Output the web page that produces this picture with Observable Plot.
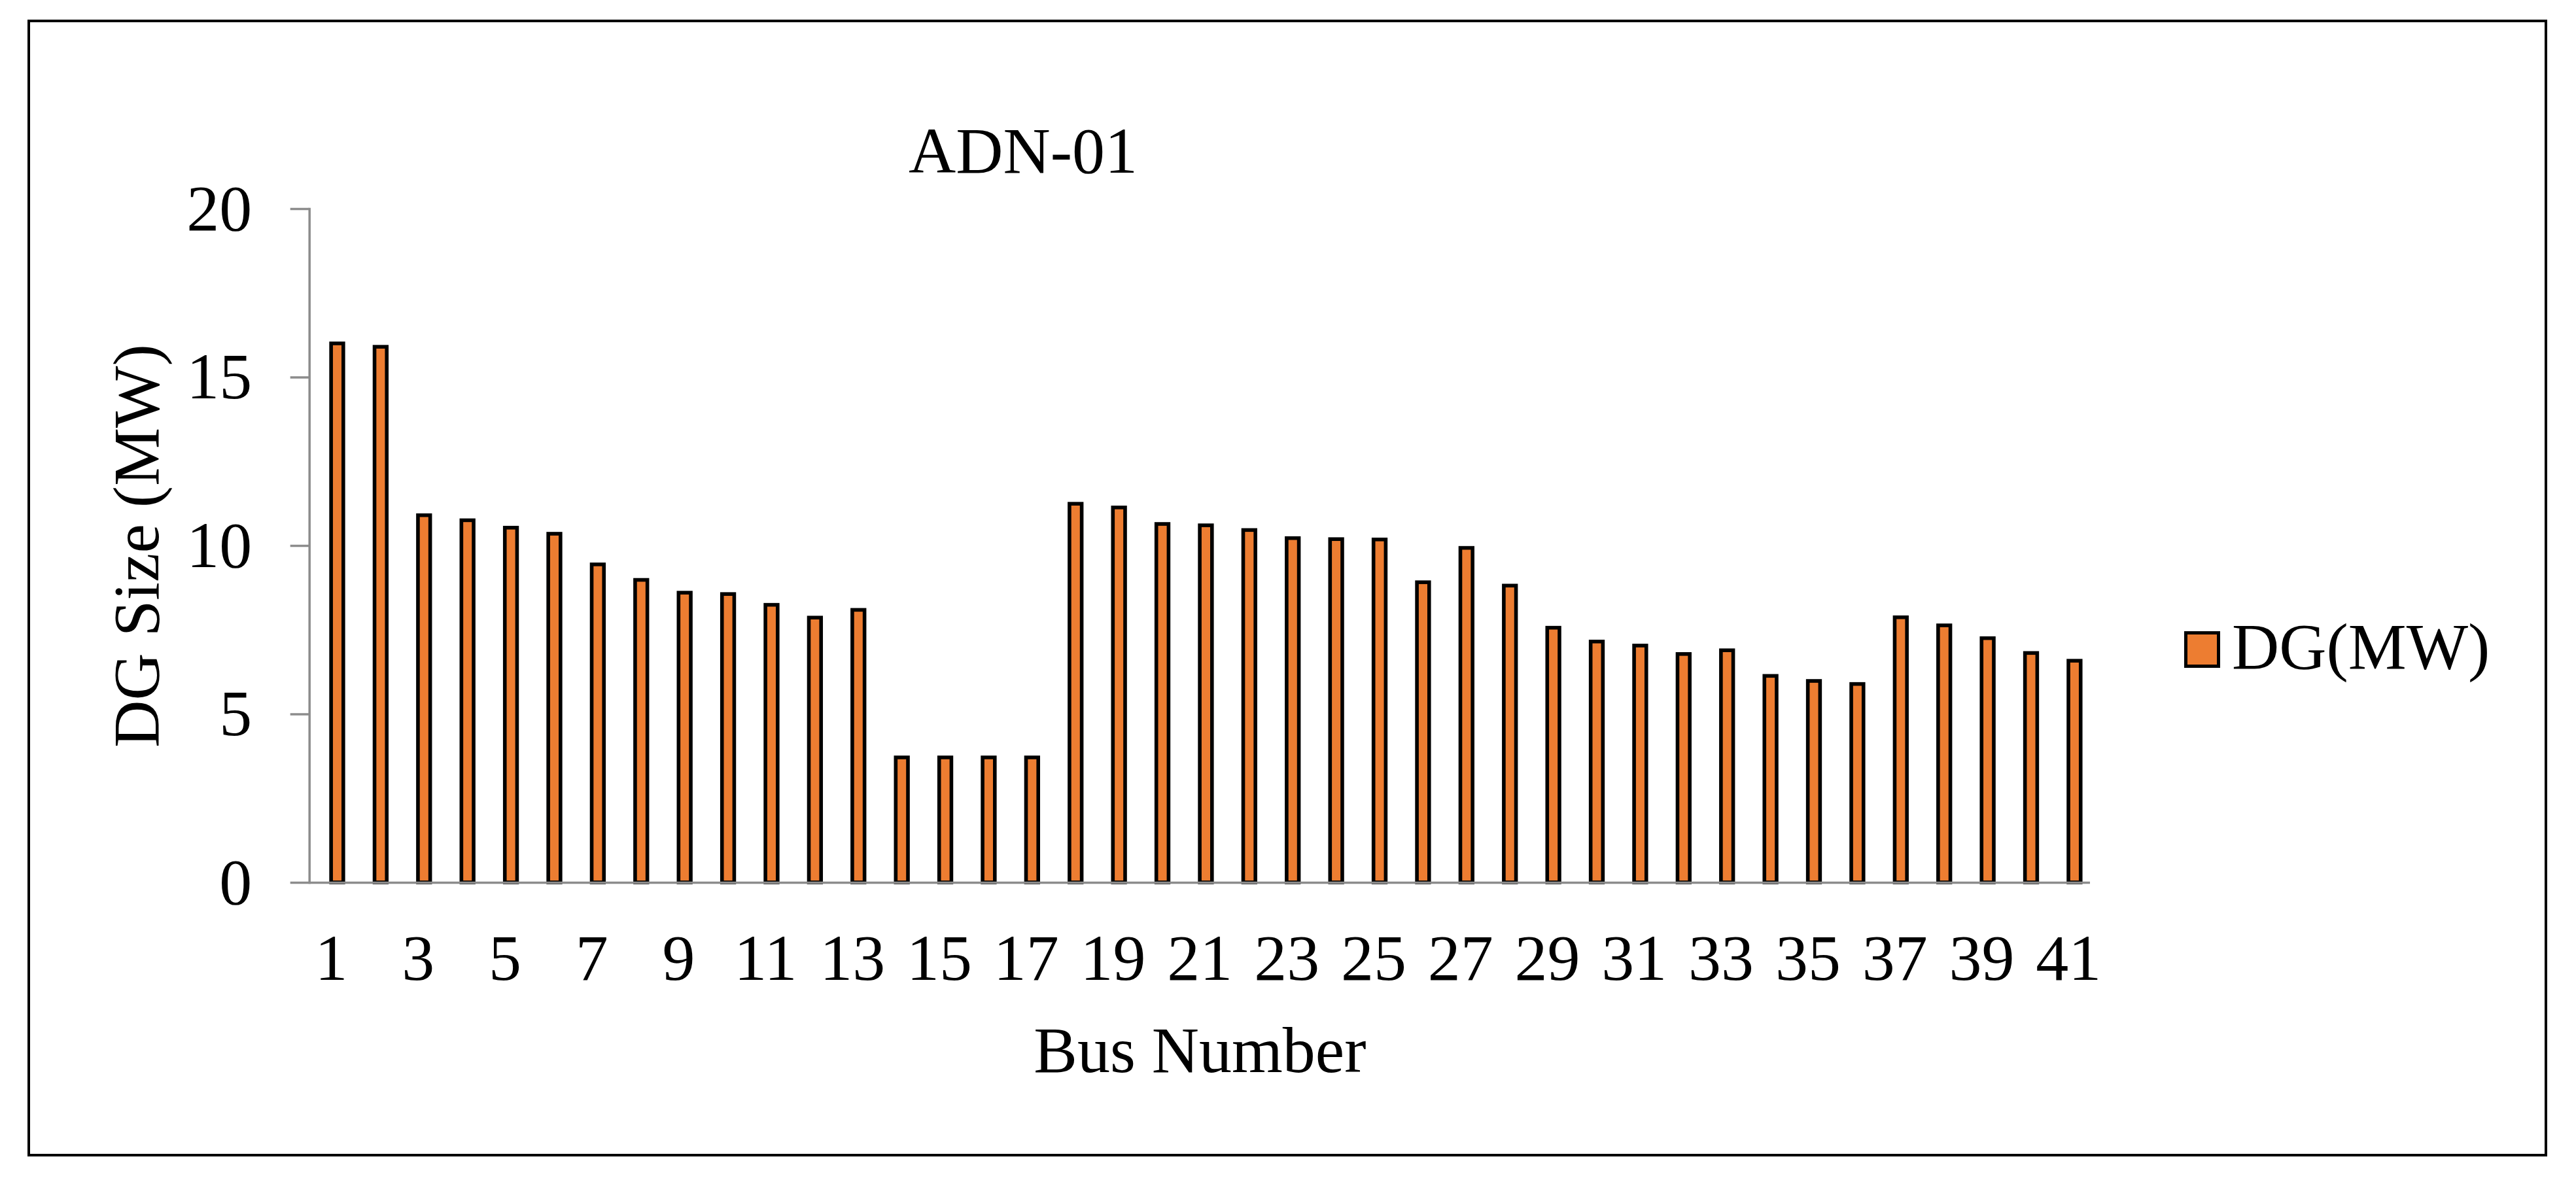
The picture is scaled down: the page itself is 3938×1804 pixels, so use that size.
<!DOCTYPE html>
<html>
<head>
<meta charset="utf-8">
<script src="https://cdn.jsdelivr.net/npm/d3@7"></script>
<script src="https://cdn.jsdelivr.net/npm/@observablehq/plot@0.6"></script>
<style>
  html, body { margin: 0; padding: 0; background: white; }
  #wrap { position: relative; width: 3938px; height: 1804px; overflow: hidden; background: white;
          font-family: 'Liberation Serif', 'Times New Roman', serif; color: black; }
  #wrap svg { position: absolute; left: 0; top: 0; }
  .border { position: absolute; left: 42px; top: 30px; width: 3852px; height: 1738px;
            box-sizing: border-box; border: 4px solid black; pointer-events: none; }
  .title { position: absolute; left: 1564px; top: 181px; transform: translateX(-50%);
           font-size: 100px; line-height: 100px; white-space: nowrap; }
  .legend-swatch { position: absolute; left: 3339px; top: 965px; width: 55px; height: 56px;
                   box-sizing: border-box; border: 5.5px solid black; background: #ED7D31; }
  .legend-text { position: absolute; left: 3412px; top: 939px; font-size: 100px; line-height: 100px;
                 white-space: nowrap; }
</style>
</head>
<body>
<div id="wrap"></div>
<script>
// ---- data ----
const busNumbers = d3.range(1, 42);
const dgSizeMW = [16.0, 15.9, 10.9, 10.75, 10.53, 10.35, 9.44, 8.98, 8.60, 8.56, 8.24, 7.86, 8.09,
                  3.71, 3.71, 3.71, 3.71,
                  11.24, 11.13, 10.64, 10.60, 10.46, 10.22, 10.19, 10.18, 8.91, 9.93, 8.81,
                  7.56, 7.15, 7.03, 6.78, 6.89, 6.13, 5.98, 5.89, 7.87, 7.63, 7.25, 6.81, 6.58];
const xTickLabels = [1, 3, 5, 7, 9, 11, 13, 15, 17, 19, 21, 23, 25, 27, 29, 31, 33, 35, 37, 39, 41];
const yTickValues = [0, 5, 10, 15, 20];
const seriesName = "DG(MW)";
const chartTitle = "ADN-01";
const xTitle = "Bus Number";
const yTitle = "DG Size (MW)";

const table = busNumbers.map((b, i) => ({bus: b, dg: dgSizeMW[i]}));

const axisGray = "#8c8c8c";
const barFill = "#ED7D31";

const chart = Plot.plot({
  width: 3938,
  height: 1804,
  marginLeft: 472.7,
  marginRight: 743,
  marginTop: 319,
  marginBottom: 455,
  style: {
    fontFamily: "'Liberation Serif', 'Times New Roman', serif",
    fontSize: "100px",
    color: "black",
    background: "transparent",
    overflow: "visible"
  },
  x: { type: "band", domain: busNumbers, padding: 0, round: false },
  y: { domain: [0, 20] },
  marks: [
    Plot.barY(table, {
      x: "bus", y: "dg",
      fill: barFill, stroke: "black", strokeWidth: 5.6,
      insetLeft: 33.45, insetRight: 14.25
    }),
    Plot.frame({ anchor: "left", stroke: axisGray, strokeWidth: 3.5 }),
    Plot.ruleY([0], { stroke: axisGray, strokeWidth: 3.5 }),
    Plot.axisY({
      ticks: yTickValues, tickSize: 29, tickPadding: 59,
      stroke: axisGray, strokeWidth: 3.5, fill: "black",
      label: yTitle, labelAnchor: "center", labelOffset: 302, labelArrow: "none"
    }),
    Plot.axisX({
      ticks: xTickLabels, tickSize: 0, tickPadding: 77, fill: "black",
      label: xTitle, labelAnchor: "center", labelOffset: 289, labelArrow: "none"
    })
  ]
});

const wrap = document.getElementById("wrap");
wrap.appendChild(chart);

const border = document.createElement("div");
border.className = "border";
wrap.appendChild(border);

const title = document.createElement("div");
title.className = "title";
title.textContent = chartTitle;
wrap.appendChild(title);

const sw = document.createElement("div");
sw.className = "legend-swatch";
wrap.appendChild(sw);

const lt = document.createElement("div");
lt.className = "legend-text";
lt.textContent = seriesName;
wrap.appendChild(lt);
</script>
</body>
</html>
